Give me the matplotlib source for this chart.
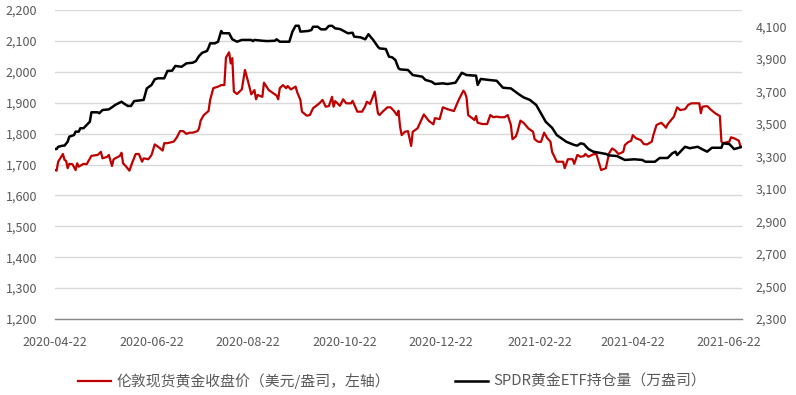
"""
London spot gold close vs SPDR gold ETF holdings, Apr 2020 - Jun 2021.

Output:
    out.png
"""

import numpy as np
import matplotlib.pyplot as plt
from matplotlib.ticker import FuncFormatter, MultipleLocator


# ---------------------------------------------------------------------
# Data
# ---------------------------------------------------------------------

START_DATE = np.datetime64("2020-04-22")

# days after START_DATE, London spot gold close (USD/oz)
gold_days = [
    0, 1, 2, 5, 6, 7, 8, 9, 11, 13, 14, 15, 18, 20, 23, 27, 29, 30, 33, 34,
    36, 37, 41, 42, 43, 45, 47, 49, 51, 53, 55, 56, 59, 61, 63, 65, 68, 69,
    71, 75, 77, 79, 81, 83, 85, 87, 90, 91, 92, 94, 97, 98, 100, 103, 105,
    107, 108, 110, 111, 112, 113, 115, 118, 120, 122, 124, 126, 127, 128,
    131, 132, 135, 140, 141, 142, 144, 146, 147, 149, 152, 153, 155, 156,
    159, 161, 163, 167, 169, 171, 173, 175, 176, 177, 180, 182, 184, 187,
    188, 191, 194, 196, 197, 199, 201, 202, 204, 205, 207, 210, 212, 214,
    216, 217, 218, 219, 221, 223, 225, 226, 229, 233, 236, 239, 240, 243,
    245, 248, 252, 255, 258, 259, 260, 261, 265, 266, 267, 270, 273, 275,
    277, 279, 281, 284, 286, 288, 289, 291, 292, 294, 296, 299, 302, 303,
    305, 307, 309, 311, 313, 314, 317, 321, 322, 324, 327, 328, 330, 332,
    334, 335, 337, 340, 342, 345, 348, 350, 352, 354, 356, 359, 360, 362,
    364, 365, 367, 370, 372, 374, 377, 378, 380, 383, 385, 386, 387, 391,
    393, 395, 398, 400, 402, 405, 407, 408, 409, 412, 414, 417, 420, 421,
    422, 426, 427, 429, 432, 433,
]
gold_price = [
    1682, 1680, 1709, 1734, 1715, 1712, 1688, 1702, 1701, 1682, 1704, 1693,
    1702, 1701, 1728, 1731, 1741, 1720, 1725, 1731, 1695, 1717, 1728, 1738,
    1704, 1693, 1680, 1709, 1734, 1734, 1709, 1720, 1717, 1731, 1765, 1758,
    1745, 1769, 1769, 1774, 1788, 1808, 1808, 1799, 1803, 1803, 1808, 1817,
    1842, 1860, 1873, 1909, 1947, 1952, 1957, 1957, 2046, 2063, 2027, 2044,
    1936, 1928, 1943, 2006, 1968, 1927, 1941, 1911, 1925, 1919, 1965, 1941,
    1923, 1911, 1947, 1957, 1947, 1954, 1943, 1952, 1934, 1909, 1871, 1858,
    1860, 1882, 1898, 1909, 1887, 1889, 1919, 1887, 1905, 1890, 1911, 1898,
    1898, 1906, 1871, 1871, 1889, 1903, 1896, 1922, 1936, 1866, 1860, 1871,
    1885, 1885, 1874, 1860, 1874, 1822, 1795, 1806, 1808, 1760, 1806, 1817,
    1862, 1842, 1830, 1850, 1847, 1885, 1879, 1873, 1909, 1939, 1932, 1916,
    1860, 1844, 1857, 1835, 1831, 1831, 1860, 1853, 1855, 1853, 1853, 1860,
    1828, 1782, 1790, 1803, 1842, 1835, 1817, 1806, 1782, 1774, 1773, 1803,
    1785, 1774, 1741, 1709, 1709, 1688, 1717, 1717, 1702, 1731, 1725, 1727,
    1734, 1725, 1733, 1734, 1682, 1688, 1736, 1752, 1745, 1734, 1741, 1763,
    1772, 1777, 1795, 1785, 1779, 1766, 1765, 1774, 1795, 1828, 1835, 1825,
    1819, 1830, 1855, 1885, 1876, 1879, 1893, 1898, 1898, 1898, 1866, 1887,
    1889, 1879, 1866, 1857, 1774, 1769, 1774, 1788, 1785, 1777, 1758,
]

# days after START_DATE, SPDR gold ETF holdings (10k oz)
etf_days = [
    0, 1, 2, 5, 6, 8, 9, 12, 13, 15, 16, 18, 20, 22, 23, 27, 28, 30, 34, 36,
    38, 42, 44, 46, 48, 50, 56, 58, 61, 63, 65, 69, 71, 74, 76, 80, 83, 87,
    89, 91, 93, 96, 97, 98, 101, 103, 105, 106, 110, 112, 115, 118, 124,
    125, 126, 131, 134, 139, 140, 142, 148, 150, 152, 154, 155, 160, 162,
    163, 166, 168, 171, 173, 175, 177, 180, 182, 185, 188, 189, 193, 196,
    198, 201, 204, 205, 209, 211, 213, 215, 217, 218, 223, 226, 232, 234,
    238, 240, 245, 248, 253, 257, 260, 266, 267, 269, 274, 279, 283, 288,
    293, 296, 300, 304, 307, 310, 314, 317, 323, 328, 330, 332, 334, 337,
    340, 344, 348, 350, 355, 360, 366, 371, 373, 379, 382, 387, 390, 392,
    393, 396, 398, 401, 406, 409, 412, 415, 421, 422, 426, 429, 431, 434,
]
etf_holdings = [
    3345, 3345, 3359, 3366, 3366, 3390, 3421, 3431, 3452, 3452, 3473, 3473,
    3493, 3513, 3571, 3571, 3565, 3585, 3589, 3602, 3616, 3636, 3622, 3610,
    3610, 3640, 3647, 3718, 3739, 3774, 3780, 3780, 3825, 3827, 3856, 3851,
    3872, 3876, 3886, 3917, 3937, 3948, 3968, 3995, 3995, 4005, 4071, 4057,
    4057, 4020, 4005, 4016, 4016, 4009, 4016, 4011, 4009, 4011, 4020, 4005,
    4005, 4067, 4103, 4103, 4067, 4071, 4077, 4097, 4097, 4081, 4081, 4102,
    4103, 4087, 4083, 4073, 4057, 4060, 4036, 4032, 4020, 4051, 4016, 3974,
    3964, 3960, 3913, 3909, 3893, 3842, 3835, 3831, 3800, 3790, 3770, 3759,
    3745, 3749, 3745, 3753, 3814, 3800, 3796, 3739, 3776, 3770, 3765, 3722,
    3718, 3682, 3663, 3647, 3616, 3565, 3513, 3476, 3431, 3390, 3370, 3366,
    3380, 3376, 3345, 3329, 3322, 3315, 3306, 3302, 3278, 3282, 3278, 3267,
    3267, 3290, 3290, 3319, 3329, 3308, 3339, 3359, 3350, 3359, 3343, 3329,
    3353, 3353, 3380, 3376, 3345, 3350, 3359,
]

x_tick_labels = [
    "2020-04-22", "2020-06-22", "2020-08-22", "2020-10-22",
    "2020-12-22", "2021-02-22", "2021-04-22", "2021-06-22",
]

GOLD_LABEL = "伦敦现货黄金收盘价（美元/盎司，左轴）"
ETF_LABEL = "SPDR黄金ETF持仓量（万盎司）"

# ---------------------------------------------------------------------
# Style
# ---------------------------------------------------------------------

plt.rcParams["font.family"] = ["Noto Sans CJK SC", "DejaVu Sans"]

TEXT_COLOR = "#595959"
GRID_COLOR = "#d9d9d9"
RED = "#c00000"


def thousands(value, _pos):
    return f"{value:,.0f}"


def make_chart():
    gold_dates = START_DATE + np.array(gold_days, dtype="timedelta64[D]")
    etf_dates = START_DATE + np.array(etf_days, dtype="timedelta64[D]")

    fig = plt.figure(figsize=(7.96, 3.95), dpi=100)
    ax = fig.add_axes([55 / 796, 76 / 395, 687 / 796, 309 / 395])
    ax2 = ax.twinx()

    # left axis: gold price
    ax.plot(gold_dates, gold_price, color=RED, lw=1.6, zorder=3)
    ax.set_ylim(1200, 2200)
    ax.yaxis.set_major_locator(MultipleLocator(100))
    ax.yaxis.set_major_formatter(FuncFormatter(thousands))
    ax.grid(axis="y", color=GRID_COLOR, lw=1)
    ax.set_axisbelow(True)

    # right axis: ETF holdings
    ax2.plot(etf_dates, etf_holdings, color="black", lw=1.8, zorder=3)
    ax2.set_ylim(2300, 4200)
    ax2.set_yticks(np.arange(2300, 4101, 200))
    ax2.yaxis.set_major_formatter(FuncFormatter(thousands))

    # x axis
    ticks = np.array(x_tick_labels, dtype="datetime64[D]")
    ax.set_xlim(START_DATE, START_DATE + np.timedelta64(434, "D"))
    ax.set_xticks(ticks)
    ax.set_xticklabels(x_tick_labels)

    for a in (ax, ax2):
        for side in ("top", "left", "right", "bottom"):
            a.spines[side].set_visible(False)
        a.tick_params(length=0, labelsize=9, labelcolor=TEXT_COLOR)
    ax.spines["bottom"].set_visible(True)
    ax.spines["bottom"].set_color("#898989")
    ax.spines["bottom"].set_linewidth(1)
    ax.tick_params(axis="y", pad=13)
    ax.tick_params(axis="x", pad=12)
    ax2.tick_params(axis="y", pad=10)

    handles = [ax.lines[0], ax2.lines[0]]
    fig.legend(
        handles,
        [GOLD_LABEL, ETF_LABEL],
        loc="center",
        bbox_to_anchor=(392 / 796, 1 - 381 / 395),
        ncol=2,
        frameon=False,
        fontsize=10.7,
        labelcolor=TEXT_COLOR,
        handlelength=2.2,
        handletextpad=0.35,
        columnspacing=4.4,
    )

    fig.savefig("out.png", dpi=100)
    plt.close(fig)


if __name__ == "__main__":
    make_chart()
